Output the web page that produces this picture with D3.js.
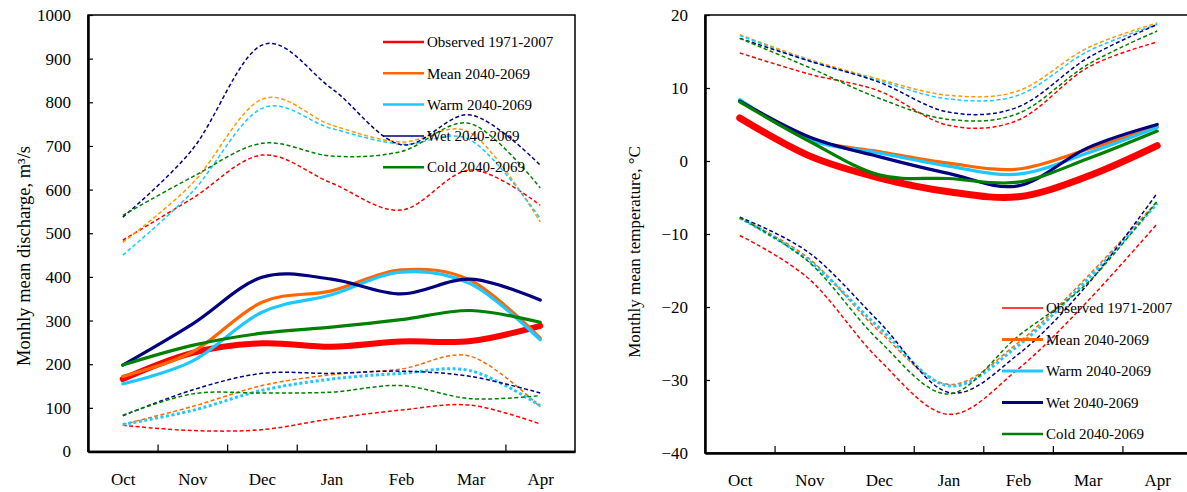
<!DOCTYPE html>
<html>
<head>
<meta charset="utf-8">
<title>Monthly mean discharge and temperature</title>
<style>
body { margin: 0; background: #fff; }
svg text { font-family: "Liberation Serif", "Times New Roman", serif; fill: #000; }
.axis path, .axis line { stroke: #000; }
.axis text { font-size: 17px; font-family: "Liberation Serif", "Times New Roman", serif; }
.legend text { font-size: 15px; }
</style>
</head>
<body>
<svg id="chart" width="1187" height="492"></svg>

<script src="https://d3js.org/d3.v7.min.js"></script>
<script>

var months = ["Oct", "Nov", "Dec", "Jan", "Feb", "Mar", "Apr"];
var seriesNames = ["Observed 1971-2007", "Mean 2040-2069", "Warm 2040-2069", "Wet 2040-2069", "Cold 2040-2069"];

// discharge, m3/s : mean, upper and lower bound per scenario
var qObs      = [166, 226, 248, 240, 252, 253, 288];
var qObsHigh  = [484, 580, 679, 615, 553, 645, 564];
var qObsLow   = [60, 48, 50, 75, 95, 106, 63];
var qMean     = [172, 228, 342, 368, 416, 392, 260];
var qMeanHigh = [479, 614, 807, 748, 709, 730, 526];
var qMeanLow  = [62, 103, 151, 176, 189, 218, 102];
var qWarm     = [155, 207, 319, 359, 411, 384, 256];
var qWarmHigh = [450, 595, 786, 740, 704, 713, 534];
var qWarmLow  = [62, 94, 140, 166, 179, 185, 105];
var qWet      = [198, 292, 399, 395, 361, 395, 347];
var qWetHigh  = [537, 692, 931, 832, 703, 771, 656];
var qWetLow   = [82, 141, 179, 179, 184, 172, 134];
var qCold     = [198, 243, 271, 285, 302, 323, 296];
var qColdHigh = [541, 629, 706, 677, 687, 751, 604];
var qColdLow  = [83, 132, 134, 136, 151, 121, 128];
var qTicks    = [0, 100, 200, 300, 400, 500, 600, 700, 800, 900, 1000];

// temperature, degrees C
var tObs      = [5.9, 0.7, -2.3, -4.2, -4.9, -2.1, 2.1];
var tObsHigh  = [14.8, 11.9, 9.6, 4.9, 5.6, 12.8, 16.3];
var tObsLow   = [-10.2, -16.2, -27.2, -34.7, -28.5, -19.2, -8.6];
var tMean     = [8.3, 3.0, 1.3, -0.3, -1.1, 1.6, 4.7];
var tMeanHigh = [17.3, 13.9, 11.2, 9.0, 9.6, 15.5, 18.9];
var tMeanLow  = [-7.8, -13.4, -23.3, -30.6, -24.9, -15.8, -5.5];
var tWarm     = [8.4, 2.9, 1.1, -0.7, -1.8, 1.1, 4.6];
var tWarmHigh = [17.2, 13.7, 11.0, 8.5, 9.0, 15.0, 18.7];
var tWarmLow  = [-7.8, -13.7, -22.8, -30.8, -25.3, -16.2, -5.8];
var tWet      = [8.2, 3.3, 0.6, -1.7, -3.4, 1.8, 5.0];
var tWetHigh  = [16.8, 13.7, 10.8, 6.7, 7.4, 14.1, 18.7];
var tWetLow   = [-7.7, -12.6, -22.0, -31.7, -26.5, -16.9, -4.4];
var tCold     = [8.1, 2.7, -1.9, -2.4, -2.9, 0.3, 4.1];
var tColdHigh = [16.8, 12.8, 8.6, 5.7, 6.5, 13.2, 17.8];
var tColdLow  = [-7.8, -13.9, -24.6, -31.9, -24.0, -16.7, -5.5];
var tTicks    = [-40, -30, -20, -10, 0, 10, 20];

var colors     = ["#ff0000", "#ff6600", "#1ec8ff", "#000080", "#008000"];
var highColors = ["#ff0000", "#ff9900", "#1ec8ff", "#000080", "#008000"];
var lowColors  = ["#ff0000", "#ff6600", "#1ec8ff", "#000080", "#008000"];

var svg = d3.select("#chart");

function panel(opt) {
  var g = svg.append("g");

  var x = d3.scalePoint()
    .domain(months)
    .range([opt.x0, opt.x1])
    .padding(0.5);
  var y = d3.scaleLinear()
    .domain([opt.ticks[0], opt.ticks[opt.ticks.length - 1]])
    .range([opt.y1, opt.y0]);

  // frame
  g.append("rect")
    .attr("x", opt.x0).attr("y", opt.y0)
    .attr("width", opt.x1 - opt.x0).attr("height", opt.y1 - opt.y0)
    .attr("fill", "none").attr("stroke", "#000").attr("stroke-width", 1.5);

  var line = d3.line()
    .x(function(d, i) { return x(months[i]); })
    .y(function(d) { return y(d); })
    .curve(d3.curveCardinal.tension(0));

  // bounds first, mean lines on top
  opt.low.forEach(function(s, i) {
    g.append("path").attr("d", line(s))
      .attr("fill", "none").attr("stroke", lowColors[i])
      .attr("stroke-width", i == 2 ? 3 : 1.5)
      .attr("stroke-dasharray", i == 2 ? "3,2.5" : "4,2.5");
  });
  opt.high.forEach(function(s, i) {
    g.append("path").attr("d", line(s))
      .attr("fill", "none").attr("stroke", highColors[i])
      .attr("stroke-width", 1.5)
      .attr("stroke-dasharray", "4,2.5");
  });
  opt.main.forEach(function(s, i) {
    g.append("path").attr("d", line(s))
      .attr("fill", "none").attr("stroke", colors[i])
      .attr("stroke-width", i == 0 ? opt.obsWidth : 3.2)
      .attr("stroke-linejoin", "round")
      .attr("stroke-linecap", "round");
  });

  // y axis
  var ya = g.append("g")
    .attr("class", "axis")
    .attr("transform", "translate(" + opt.x0 + ",0)")
    .call(d3.axisLeft(y).tickValues(opt.ticks).tickFormat(d3.format("d"))
      .tickSizeInner(-5).tickSizeOuter(0).tickPadding(17));
  ya.select(".domain").attr("stroke-width", 2.5);
  ya.selectAll("line").attr("stroke-width", 1.2);

  // x axis: ticks between months, labels under points
  var xb = d3.scaleLinear().domain([0, months.length]).range([opt.x0, opt.x1]);
  var xa = g.append("g")
    .attr("class", "axis")
    .attr("transform", "translate(0," + opt.y1 + ")")
    .call(d3.axisBottom(xb).tickValues([1, 2, 3, 4, 5, 6]).tickSizeInner(-7).tickSizeOuter(0).tickFormat(""));
  xa.select(".domain").attr("stroke-width", 2.5);
  xa.selectAll("line").attr("stroke-width", 1.2);

  var xl = g.append("g")
    .attr("class", "axis")
    .attr("transform", "translate(0," + opt.y1 + ")")
    .call(d3.axisBottom(x).tickSize(0).tickPadding(21));
  xl.select(".domain").remove();

  // y label
  g.append("text")
    .attr("transform", "translate(" + opt.labelX + "," + opt.labelY + ") rotate(-90)")
    .attr("text-anchor", "middle")
    .style("font-size", opt.labelSize)
    .text(opt.label);

  // legend
  var lg = g.append("g").attr("class", "legend");
  seriesNames.forEach(function(name, i) {
    var ly = opt.legY + i * opt.legStep;
    lg.append("line")
      .attr("x1", opt.legX).attr("x2", opt.legX + 41)
      .attr("y1", ly).attr("y2", ly)
      .attr("stroke", colors[i]).attr("stroke-width", opt.legWidths[i]);
    lg.append("text")
      .attr("x", opt.legX + 44).attr("y", ly)
      .attr("dy", "0.35em")
      .text(name);
  });
}

panel({
  x0: 88, x1: 575, y0: 15, y1: 451.5,
  ticks: qTicks,
  main: [qObs, qMean, qWarm, qWet, qCold],
  high: [qObsHigh, qMeanHigh, qWarmHigh, qWetHigh, qColdHigh],
  low: [qObsLow, qMeanLow, qWarmLow, qWetLow, qColdLow],
  obsWidth: 6,
  label: "Monhly mean discharge, m\u00b3/s",
  labelSize: "18.5px",
  labelX: 30, labelY: 256,
  legX: 383, legY: 42, legStep: 31.3,
  legWidths: [2.5, 2.5, 2.5, 1.5, 2.5]
});

panel({
  x0: 705, x1: 1192, y0: 15, y1: 453,
  ticks: tTicks,
  main: [tObs, tMean, tWarm, tWet, tCold],
  high: [tObsHigh, tMeanHigh, tWarmHigh, tWetHigh, tColdHigh],
  low: [tObsLow, tMeanLow, tWarmLow, tWetLow, tColdLow],
  obsWidth: 7,
  label: "Monthly mean temperature, \u00b0C",
  labelSize: "17px",
  labelX: 640, labelY: 252,
  legX: 1002, legY: 308, legStep: 31.5,
  legWidths: [1.5, 3, 3, 3, 2.5]
});

</script>
</body>
</html>
